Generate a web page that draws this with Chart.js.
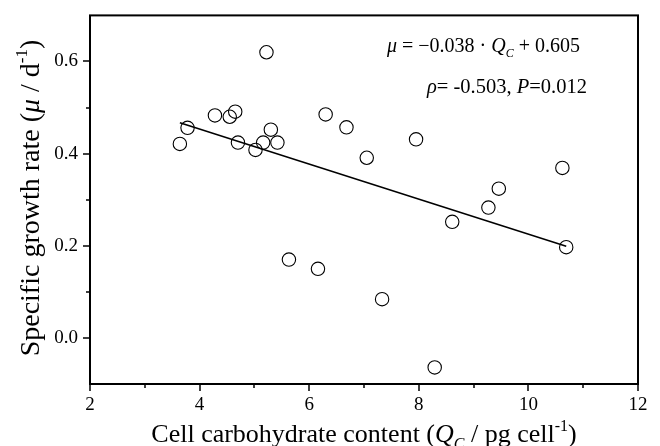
<!DOCTYPE html>
<html>
<head>
<meta charset="utf-8">
<script src="https://cdn.jsdelivr.net/npm/chart.js@4"></script>
<style>
  html, body { margin: 0; padding: 0; background: #fff; }
  #wrap { width: 660px; height: 446px; }
</style>
</head>
<body>
<div id="wrap"><canvas id="chart" width="660" height="446"></canvas></div>
<script>
// Data
const carbX = [3.64, 3.78, 4.28, 4.55, 4.65, 4.70, 5.02, 5.16, 5.22, 5.30, 5.42, 5.63, 6.16, 6.30, 6.68, 7.05, 7.33, 7.95, 8.29, 8.61, 9.27, 9.46, 10.62, 10.69];
const growthY = [0.421, 0.456, 0.483, 0.480, 0.491, 0.424, 0.408, 0.424, 0.620, 0.452, 0.424, 0.170, 0.150, 0.485, 0.457, 0.391, 0.084, 0.431, -0.064, 0.252, 0.283, 0.324, 0.369, 0.197];

// regression line end points
const fitX = [3.64, 10.69];
const fitY = [0.467, 0.199];

const xMajorTicks = [2, 4, 6, 8, 10, 12];
const xMinorTicks = [3, 5, 7, 9, 11];
const yMajorTicks = [0.0, 0.2, 0.4, 0.6];
const yMinorTicks = [0.1, 0.3, 0.5];

const SERIF = '"Liberation Serif", "Times New Roman", serif';

// draw a run of text pieces: {t, it, sub, sup}
function richText(ctx, parts, x, y, size, align) {
    const font = (p) => {
        const s = (p.sub || p.sup) ? Math.round(size * 0.62) : size;
        return (p.it ? 'italic ' : '') + s + 'px ' + SERIF;
    };
    let total = 0;
    parts.forEach(p => { ctx.font = font(p); total += ctx.measureText(p.t).width; });
    let cx = align === 'center' ? x - total / 2 : (align === 'right' ? x - total : x);
    ctx.textAlign = 'left';
    ctx.textBaseline = 'alphabetic';
    parts.forEach(p => {
        ctx.font = font(p);
        let dy = 0;
        if (p.sub) dy = size * 0.25;
        if (p.sup) dy = -size * 0.42;
        ctx.fillText(p.t, cx, y + dy);
        cx += ctx.measureText(p.t).width;
    });
}

const decorPlugin = {
    id: 'decor',
    afterDraw(chart) {
        const ctx = chart.ctx;
        const a = chart.chartArea;
        const xs = chart.scales.x, ys = chart.scales.y;
        ctx.save();
        ctx.strokeStyle = '#000';
        ctx.fillStyle = '#000';

        // frame
        ctx.lineWidth = 2;
        ctx.strokeRect(a.left, a.top, a.right - a.left, a.bottom - a.top);

        // ticks (outward, bottom and left only)
        ctx.lineWidth = 1.5;
        ctx.beginPath();
        xMajorTicks.forEach(v => { const px = Math.round(xs.getPixelForValue(v)); ctx.moveTo(px, a.bottom); ctx.lineTo(px, a.bottom + 7); });
        xMinorTicks.forEach(v => { const px = Math.round(xs.getPixelForValue(v)); ctx.moveTo(px, a.bottom); ctx.lineTo(px, a.bottom + 4); });
        yMajorTicks.forEach(v => { const py = Math.round(ys.getPixelForValue(v)); ctx.moveTo(a.left, py); ctx.lineTo(a.left - 7, py); });
        yMinorTicks.forEach(v => { const py = Math.round(ys.getPixelForValue(v)); ctx.moveTo(a.left, py); ctx.lineTo(a.left - 4, py); });
        ctx.stroke();

        // axis titles
        richText(ctx, [
            { t: 'Cell carbohydrate content (' },
            { t: 'Q', it: true },
            { t: 'C', it: true, sub: true },
            { t: ' / pg cell' },
            { t: '-1', sup: true },
            { t: ')' }
        ], (a.left + a.right) / 2 + 0, 442, 26, 'center');

        ctx.save();
        ctx.translate(39, 198);
        ctx.rotate(-Math.PI / 2);
        richText(ctx, [
            { t: 'Specific growth rate (' },
            { t: 'μ', it: true },
            { t: ' / d' },
            { t: '-1', sup: true },
            { t: ')' }
        ], 0, 0, 28, 'center');
        ctx.restore();

        // equation and statistics
        richText(ctx, [
            { t: 'μ', it: true },
            { t: ' = −0.038 · ' },
            { t: 'Q', it: true },
            { t: 'C', it: true, sub: true },
            { t: ' + 0.605' }
        ], 387, 52, 20, 'left');
        richText(ctx, [
            { t: 'ρ', it: true },
            { t: '= -0.503, ' },
            { t: 'P', it: true },
            { t: '=0.012' }
        ], 427, 93, 20.5, 'left');

        ctx.restore();
    }
};

new Chart(document.getElementById('chart'), {
    type: 'scatter',
    data: {
        datasets: [
            {
                type: 'line',
                data: fitX.map((x, i) => ({ x: x, y: fitY[i] })),
                borderColor: '#000',
                borderWidth: 1.5,
                pointRadius: 0,
                fill: false
            },
            {
                data: carbX.map((x, i) => ({ x: x, y: growthY[i] })),
                pointStyle: 'circle',
                pointRadius: 6.7,
                borderWidth: 1.1,
                borderColor: '#000',
                backgroundColor: 'rgba(255,255,255,0)'
            }
        ]
    },
    options: {
        responsive: false,
        animation: false,
        layout: { padding: { left: 0, right: 22, top: 14, bottom: 0 } },
        plugins: { legend: { display: false }, tooltip: { enabled: false } },
        scales: {
            x: {
                type: 'linear',
                min: 2, max: 12,
                grid: { display: false },
                border: { display: false },
                afterBuildTicks: s => { s.ticks = xMajorTicks.map(v => ({ value: v })); },
                afterFit: s => { s.height = 62; },
                ticks: {
                    padding: 2,
                    color: '#000',
                    font: { family: SERIF, size: 19 },
                    callback: v => String(v)
                }
            },
            y: {
                type: 'linear',
                min: -0.1, max: 0.7,
                grid: { display: false },
                border: { display: false },
                afterBuildTicks: s => { s.ticks = yMajorTicks.map(v => ({ value: v })); },
                afterFit: s => { s.width = 90; },
                ticks: {
                    padding: 4,
                    color: '#000',
                    font: { family: SERIF, size: 19 },
                    callback: v => v.toFixed(1)
                }
            }
        }
    },
    plugins: [decorPlugin]
});
</script>
</body>
</html>
